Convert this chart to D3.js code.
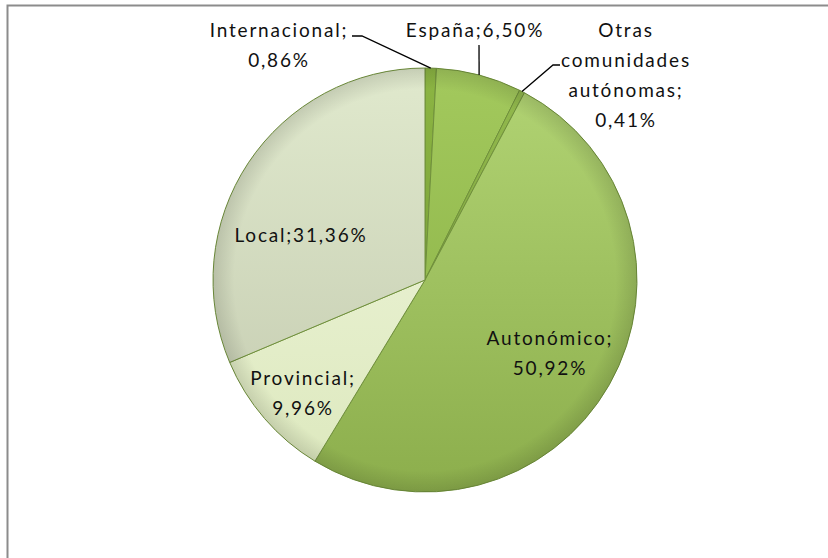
<!DOCTYPE html>
<html>
<head>
<meta charset="utf-8">
<script src="https://cdn.jsdelivr.net/npm/d3@7"></script>
<style>
  body { margin: 0; background: #fff; }
  svg { display: block; }
</style>
</head>
<body>
<svg></svg>
<script>
const categories = ['Internacional', 'España', 'Otras comunidades autónomas', 'Autonómico', 'Provincial', 'Local'];
const values = [0.86, 6.50, 0.41, 50.92, 9.96, 31.36];
const labelLines = [
  ['Internacional;', '0,86%'],
  ['España;6,50%'],
  ['Otras', 'comunidades', 'autónomas;', '0,41%'],
  ['Autonómico;', '50,92%'],
  ['Provincial;', '9,96%'],
  ['Local;31,36%']
];

const WIDTH = 828;
const HEIGHT = 558;
const CX = 425;
const CY = 280;
const R = 212;
const LINE_H = 30;

// top / bottom colours of each slice gradient
const fills = [
  ['#8cb543', '#6f9530'],
  ['#a3c95d', '#86ad42'],
  ['#92b94d', '#7a9f3a'],
  ['#b2d474', '#8cae4c'],
  ['#f1f7de', '#dce8bd'],
  ['#e0e9cd', '#c2c9ae']
];

// where each label sits and how its leader line runs
const labelLayout = [
  {x: 279, y: 37, leader: [[352, 36], [362, 36]]},
  {x: 475, y: 37, leader: [[479, 45]]},
  {x: 626, y: 37, leader: [[560, 65], [553, 65]]},
  {x: 550, y: 345, leader: null},
  {x: 303, y: 385, leader: null},
  {x: 301, y: 242, leader: null}
];

const svg = d3.select('svg').
attr('width', WIDTH).
attr('height', HEIGHT).
attr('font-family', 'Lato, "Open Sans", sans-serif');

svg.append('rect').
attr('x', 7.5).
attr('y', 5.5).
attr('width', WIDTH).
attr('height', HEIGHT).
attr('fill', 'none').
attr('stroke', '#8c8c8c').
attr('stroke-width', 2);

const defs = svg.append('defs');
fills.forEach((f, i) => {
  const g = defs.append('linearGradient').
  attr('id', 'grad' + i).
  attr('gradientUnits', 'userSpaceOnUse').
  attr('x1', 0).attr('y1', -R).
  attr('x2', 0).attr('y2', R);
  g.append('stop').attr('offset', '0%').attr('stop-color', f[0]);
  g.append('stop').attr('offset', '100%').attr('stop-color', f[1]);
});

const edgeShade = defs.append('radialGradient').
attr('id', 'edgeShade').
attr('gradientUnits', 'userSpaceOnUse').
attr('cx', 0).attr('cy', 0).attr('r', R);
edgeShade.append('stop').attr('offset', '90%').attr('stop-color', '#000').attr('stop-opacity', 0);
edgeShade.append('stop').attr('offset', '100%').attr('stop-color', '#000').attr('stop-opacity', 0.12);

const pie = d3.pie().sort(null).value(d => d);
const arcs = pie(values);
const arc = d3.arc().innerRadius(0).outerRadius(R);

const pieG = svg.append('g').
attr('transform', `translate(${CX},${CY})`);

pieG.selectAll('path.slice').
data(arcs).
join('path').
attr('class', 'slice').
attr('d', arc).
attr('fill', (d, i) => `url(#grad${i})`).
attr('stroke', '#70903c').
attr('stroke-width', 1).
attr('stroke-linejoin', 'round');

pieG.append('circle').
attr('r', R).
attr('fill', 'url(#edgeShade)');

// leader lines
const outerPoint = d => {
  const a = (d.startAngle + d.endAngle) / 2;
  return [CX + R * Math.sin(a), CY - R * Math.cos(a)];
};

arcs.forEach((d, i) => {
  const lay = labelLayout[i];
  if (!lay.leader) return;
  const pts = lay.leader.concat([outerPoint(d)]);
  svg.append('path').
  attr('d', d3.line()(pts)).
  attr('fill', 'none').
  attr('stroke', '#000').
  attr('stroke-width', 1.3);
});

// labels
labelLines.forEach((lines, i) => {
  const lay = labelLayout[i];
  const t = svg.append('text').
  attr('text-anchor', 'middle').
  attr('font-size', 19).
  attr('fill', '#111').
  attr('letter-spacing', 1.8);
  lines.forEach((s, j) => {
    t.append('tspan').
    attr('x', lay.x).
    attr('y', lay.y + j * LINE_H).
    text(s);
  });
});
</script>
</body>
</html>
